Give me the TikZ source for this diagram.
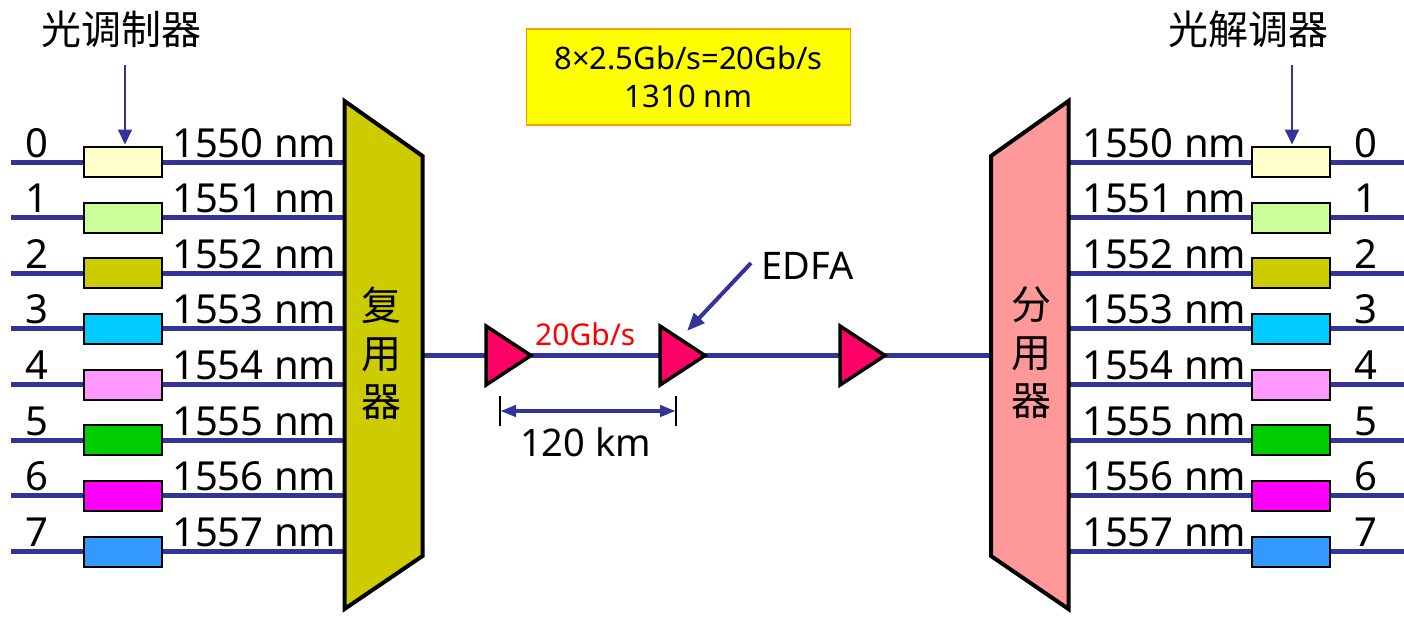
\documentclass[tikz,border=0pt]{standalone}
\usepackage{fontspec}
\setmainfont{Noto Sans}
\newfontfamily\cjk{Noto Sans CJK SC}
\usetikzlibrary{arrows.meta}
\definecolor{fibreblue}{HTML}{333399}
\definecolor{ch0}{HTML}{FFFFCC}
\definecolor{ch1}{HTML}{CCFF99}
\definecolor{ch2}{HTML}{CCCC00}
\definecolor{ch3}{HTML}{00CCFF}
\definecolor{ch4}{HTML}{FF99FF}
\definecolor{ch5}{HTML}{00CC00}
\definecolor{ch6}{HTML}{FF00FF}
\definecolor{ch7}{HTML}{3399FF}
\definecolor{muxfill}{HTML}{CCCC00}
\definecolor{demuxfill}{HTML}{FF9999}
\definecolor{ampfill}{HTML}{FF0066}
\definecolor{rateline}{HTML}{FF9900}
\definecolor{ratefill}{HTML}{FFFF00}
\begin{document}
\begin{tikzpicture}[x=1pt,y=-1pt,
   fibre/.style={draw=fibreblue,line width=5pt},
   modbox/.style={draw=black,line width=2pt,minimum width=78pt,minimum height=30pt,inner sep=0pt},
   big/.style={inner sep=0pt,font=\fontsize{40}{48}\selectfont},
   cjkbig/.style={inner sep=0pt,align=center,font=\cjk\fontsize{40}{48}\selectfont},
   pointer/.style={draw=fibreblue,line width=2pt,-{Triangle[length=15pt,width=14pt]}},
   amp/.style={draw=black,fill=ampfill,line width=3.5pt,line join=miter},
   wdm/.style={draw=black,line width=4pt,line join=miter}]
      \useasboundingbox (0,0) rectangle (1404,616);
      % channels on both sides
      \foreach \i in {0,...,7} {
         \pgfmathsetmacro\yy{162+55.65*\i}
         \pgfmathtruncatemacro\wl{1550+\i}
         \coordinate (inL\i) at (11,\yy);
         \coordinate (muxL\i) at (344,\yy);
         \coordinate (demuxR\i) at (1069,\yy);
         \coordinate (outR\i) at (1404,\yy);
         \node[modbox,fill=ch\i] (mod\i) at (122.5,\yy) {};
         \node[modbox,fill=ch\i] (dem\i) at (1290.5,\yy) {};
         \draw[fibre] (inL\i) -- (mod\i.west);
         \draw[fibre] (mod\i.east) -- (muxL\i);
         \draw[fibre] (demuxR\i) -- (dem\i.west);
         \draw[fibre] (dem\i.east) -- (outR\i);
         \node[big,anchor=base] (numL\i) at (37,\yy-5) {\i};
         \node[big,anchor=base west] (wlL\i) at (172,\yy-5) {\wl\ nm};
         \node[big,anchor=base west] (wlR\i) at (1082,\yy-5) {\wl\ nm};
         \node[big,anchor=base] (numR\i) at (1366,\yy-5) {\i};
      }
      % trunk fibre
      \coordinate (muxout) at (422,355.5);
      \coordinate (demuxin) at (992,355.5);
      \draw[fibre] (muxout) -- (demuxin);
      % multiplexer and demultiplexer
      \draw[wdm,fill=muxfill] (344.5,101) -- (422.5,156) -- (422.5,556) -- (344.5,609) -- cycle;
      \draw[wdm,fill=demuxfill] (1068.5,101) -- (991,156) -- (991,556) -- (1068.5,609) -- cycle;
      \node[cjkbig] (mux) at (381,353) {复\\用\\器};
      \node[cjkbig] (demux) at (1031,353) {分\\用\\器};
      % amplifiers
      \foreach \x/\n in {486/1, 660/2, 840/3} {
         \draw[amp] (\x,326) -- (\x+45,355.5) -- (\x,385) -- cycle;
         \coordinate (amp\n) at (\x,326);
      }
      \node[inner sep=0pt,anchor=base west,text=red,font=\fontsize{30}{36}\selectfont] (speed) at (535,345) {20Gb/s};
      % span
      \coordinate (spanL) at (500,411);
      \coordinate (spanR) at (676,411);
      \draw[line width=1.5pt] (500,396) -- (500,426);
      \draw[line width=1.5pt] (676,396) -- (676,426);
      \draw[draw=fibreblue,line width=4pt,{Triangle[length=16pt,width=11pt]}-{Triangle[length=16pt,width=11pt]}] (spanL) -- (spanR);
      \node[inner sep=0pt,anchor=base west,font=\fontsize{38}{46}\selectfont] (span) at (520,456) {120 km};
      % rate box
      \node[draw=rateline,fill=ratefill,line width=1.5pt,minimum width=324pt,minimum height=96pt,align=center,
            font=\fontsize{31}{38}\selectfont] (rate) at (688.5,77) {8×2.5Gb/s=20Gb/s\\1310 nm};
      % labels with pointers
      \node[inner sep=0pt,anchor=base west,font=\fontsize{38}{46}\selectfont] (edfa) at (761,279) {EDFA};
      \coordinate (edfafrom) at (751,263);
      \coordinate (edfato) at (687,331);
      \draw[draw=fibreblue,line width=4pt,-{Triangle[length=18pt,width=14pt]}] (edfafrom) -- (edfato);
      \node[cjkbig] (modtitle) at (121,29) {光调制器};
      \node[cjkbig] (demtitle) at (1248,29) {光解调器};
      \coordinate (modfrom) at (125,65);
      \coordinate (demfrom) at (1292,65);
      \draw[pointer,shorten >=1.5pt] (modfrom) -- (modfrom |- mod0.north);
      \draw[pointer,shorten >=1.5pt] (demfrom) -- (demfrom |- dem0.north);
   \end{tikzpicture}
\end{document}
